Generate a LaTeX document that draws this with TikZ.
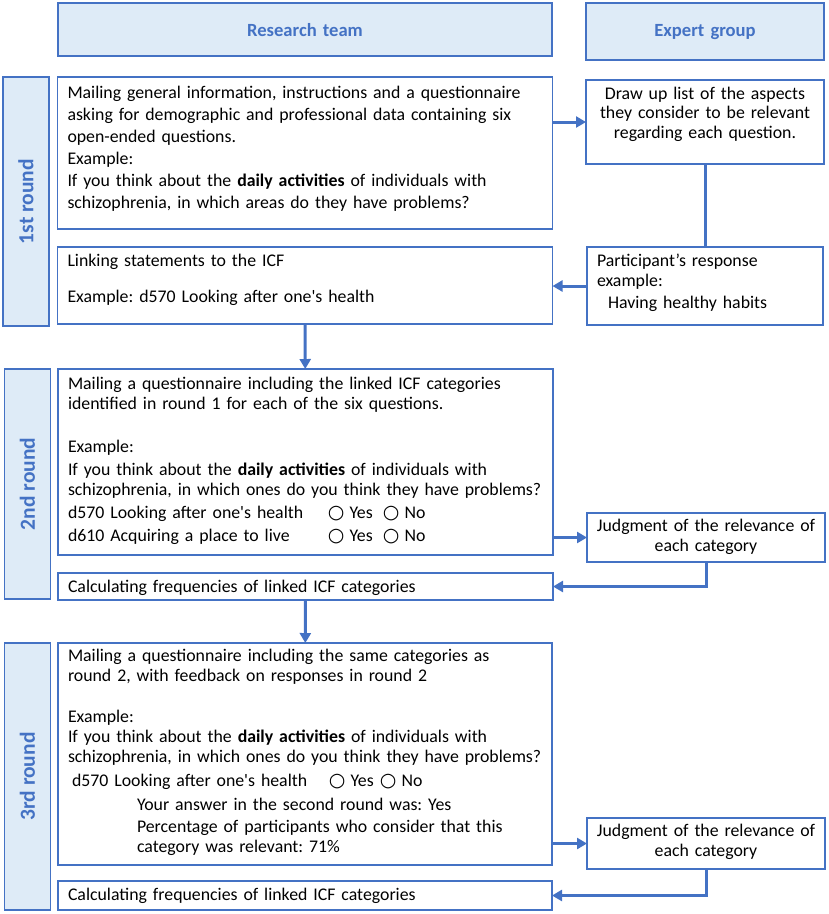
\documentclass[tikz,border=0pt]{standalone}
\usepackage{fontspec}
\setmainfont{Carlito}
\newfontfamily\symfont{DejaVu Sans}
\usetikzlibrary{arrows.meta,calc}
\definecolor{bordc}{HTML}{4472C4}
\definecolor{fillc}{HTML}{DEEBF7}
\definecolor{arrc}{HTML}{4472C4}
\newcommand{\circsym}{{\symfont\fontsize{19}{19}\selectfont ○}}
\newcommand{\ynrow}[3]{\makebox[#1][l]{#2}\makebox[#3][l]{\circsym\hspace{5pt}Yes}\circsym\hspace{5pt}No}
\begin{document}
\frenchspacing\hyphenpenalty=10000\exhyphenpenalty=10000
\begin{tikzpicture}[x=1pt,y=-1pt,
  every node/.style={inner sep=0pt, outer sep=0pt},
  base/.style={draw=bordc, line width=1.1pt, font=\fontsize{17.8}{20}\selectfont},
  hdr/.style={base, fill=fillc, text=bordc, font=\fontsize{18.6}{20}\selectfont\bfseries, align=center, anchor=north west, text width=#1},
  side/.style={base, fill=fillc, text=bordc, font=\fontsize{21.5}{22}\selectfont\bfseries, rotate=90, minimum height=46pt},
  lbox/.style={base, fill=white, anchor=north west, align=left, text width=#1-20pt, inner xsep=10pt},
  cbox/.style={base, fill=white, anchor=north west, align=center, text width=#1},
  arr/.style={draw=arrc, line width=3pt, -{Triangle[length=10pt,width=11pt]}},
  conn/.style={draw=arrc, line width=3pt}
]
\useasboundingbox (0,0) rectangle (829,914);

% headers
\node[hdr=494pt, text height=33pt, text depth=20pt] (hR) at (58,3) {Research team};
\node[hdr=238pt, text height=33pt, text depth=24pt] (hE) at (586,3) {Expert group};

% round labels
\node[side, minimum width=249pt] (r1) at (26,201.5) {1st round};
\node[side, minimum width=230pt] (r2) at (27.5,484) {2nd round};
\node[side, minimum width=267pt] (r3) at (27.5,776.5) {3rd round};

% round 1
\node[lbox=495pt, font=\fontsize{17.8}{22}\selectfont, text height=21pt, text depth=131pt] (A) at (57.5,77) {%
\mbox{Mailing general information, instructions and a questionnaire}\\
\mbox{asking for demographic and professional data containing six}\\
open-ended questions.\\
Example:\\
If you think about the \textbf{daily activities} of individuals with\\
schizophrenia, in which areas do they have problems?};

\node[cbox=238pt, font=\fontsize{17.8}{19.6}\selectfont, text height=19pt, text depth=65pt] (E1) at (586,80) {%
Draw up list of the aspects\\
they consider to be relevant\\
regarding each question.};

\node[lbox=236pt, text height=19pt, text depth=59pt] (P) at (587,247) {%
Participant’s response\\
example:\\[2.4pt]
\hspace*{11pt}Having healthy habits};

\node[lbox=495pt, text height=19pt, text depth=58pt] (B) at (57.5,247) {%
Linking statements to the ICF\\[16pt]
Example: d570 Looking after one\textquotesingle s health};

% round 2
\node[lbox=495pt, text height=20pt, text depth=166pt] (C) at (58,369) {%
\mbox{Mailing a questionnaire including the linked ICF categories}\\
identified in round 1 for each of the six questions.\\[23.4pt]
Example:\\[2.6pt]
If you think about the \textbf{daily activities} of individuals with\\
\mbox{schizophrenia, in which ones do you think they have problems?}\\[3.4pt]
\ynrow{260pt}{d570 Looking after one\textquotesingle s health}{55pt}\\[2.6pt]
\ynrow{260pt}{d610 Acquiring a place to live}{55pt}};

\node[cbox=238pt, text height=18.7pt, text depth=30.3pt] (J1) at (587,513) {%
Judgment of the relevance of\\
each category};

\node[lbox=495pt, text height=19.3pt, text depth=7.7pt] (D) at (58,573) {%
Calculating frequencies of linked ICF categories};

% round 3
\node[lbox=494pt, text height=18.7pt, text depth=203.3pt] (E) at (58,643) {%
\mbox{Mailing a questionnaire including the same categories as}\\
round 2, with feedback on responses in round 2\\[20.3pt]
Example:\\
If you think about the \textbf{daily activities} of individuals with\\
\mbox{schizophrenia, in which ones do you think they have problems?}\\[4.7pt]
\hspace*{4pt}\ynrow{257pt}{d570 Looking after one\textquotesingle s health}{51pt}\\[3.3pt]
\hspace*{69pt}Your answer in the second round was: Yes\\[2.7pt]
\hspace*{69pt}Percentage of participants who consider that this\\
\hspace*{69pt}category was relevant: 71\%};

\node[cbox=238pt, text height=18.7pt, text depth=32.3pt] (J2) at (587,818) {%
Judgment of the relevance of\\
each category};

\node[lbox=494pt, text height=19pt, text depth=10pt] (F) at (58,881) {%
Calculating frequencies of linked ICF categories};

% connectors
\draw[arr] (E1.west -| A.east) -- (E1.west);
\draw[conn] (E1) -- (P);
\draw[arr] (P.west) -- (P.west -| B.east);
\draw[arr] (B) -- (C);
\draw[arr] (J1.west -| C.east) -- (J1.west);
\draw[arr] (J1.south) |- (D.east);
\draw[arr] (D) -- (E);
\draw[arr] (J2.west -| E.east) -- (J2.west);
\draw[arr] (J2.south) |- (F.east);
\end{tikzpicture}
\end{document}
